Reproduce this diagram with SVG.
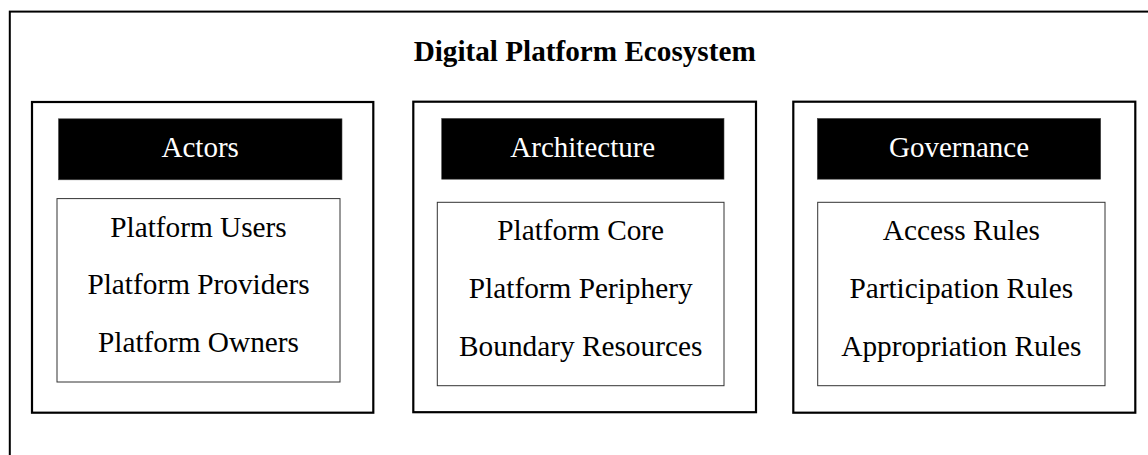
<svg xmlns="http://www.w3.org/2000/svg" width="1148" height="455" viewBox="0 0 1148 455">
<style>
.frame{fill:#fff;stroke:#000;stroke-width:2}
.box{fill:#fff;stroke:#000;stroke-width:2.2}
.hdr{fill:#000;stroke:#444;stroke-width:0.6}
.inner{fill:#fff;stroke:#333;stroke-width:1}
.t{font-family:"Liberation Serif","Times New Roman",serif;font-size:29.3px;text-anchor:middle;fill:#000}
.ht{font-family:"Liberation Serif","Times New Roman",serif;font-size:29px;text-anchor:middle;fill:#fff}
.title{font-family:"Liberation Serif","Times New Roman",serif;font-size:29.2px;font-weight:bold;text-anchor:middle;fill:#000}
</style>
<rect width="1148" height="455" fill="#fff"/>
<g id="ecosystem">
<rect class="frame" x="9.8" y="11.6" width="1200" height="500"/>
<text class="title" x="584.7" y="61">Digital Platform Ecosystem</text>
</g>
<g id="actors">
<rect class="box" x="32" y="102" width="341.3" height="310.7"/>
<rect class="hdr" x="58.5" y="118.8" width="283.5" height="61"/>
<text class="ht" x="200.2" y="157">Actors</text>
<rect class="inner" x="57" y="198.6" width="283" height="183.4"/>
<text class="t" x="198.5" y="236.6">Platform Users</text>
<text class="t" x="198.5" y="293.6">Platform Providers</text>
<text class="t" x="198.5" y="351.6">Platform Owners</text>
</g>
<g id="architecture">
<rect class="box" x="413.3" y="101.7" width="342.7" height="310.5"/>
<rect class="hdr" x="441.7" y="118.4" width="282.3" height="60.8"/>
<text class="ht" x="582.8" y="156.7">Architecture</text>
<rect class="inner" x="437.3" y="202.3" width="286.7" height="183.4"/>
<text class="t" x="580.7" y="240">Platform Core</text>
<text class="t" x="580.7" y="297.7">Platform Periphery</text>
<text class="t" x="580.7" y="356">Boundary Resources</text>
</g>
<g id="governance">
<rect class="box" x="793.3" y="101.7" width="342" height="311"/>
<rect class="hdr" x="817.3" y="118.4" width="283.4" height="60.8"/>
<text class="ht" x="959" y="156.7">Governance</text>
<rect class="inner" x="817.7" y="202.3" width="287.3" height="183.4"/>
<text class="t" x="961.3" y="240">Access Rules</text>
<text class="t" x="961.3" y="297.7">Participation Rules</text>
<text class="t" x="961.3" y="356">Appropriation Rules</text>
</g>
<g id="connectors"/>
</svg>
